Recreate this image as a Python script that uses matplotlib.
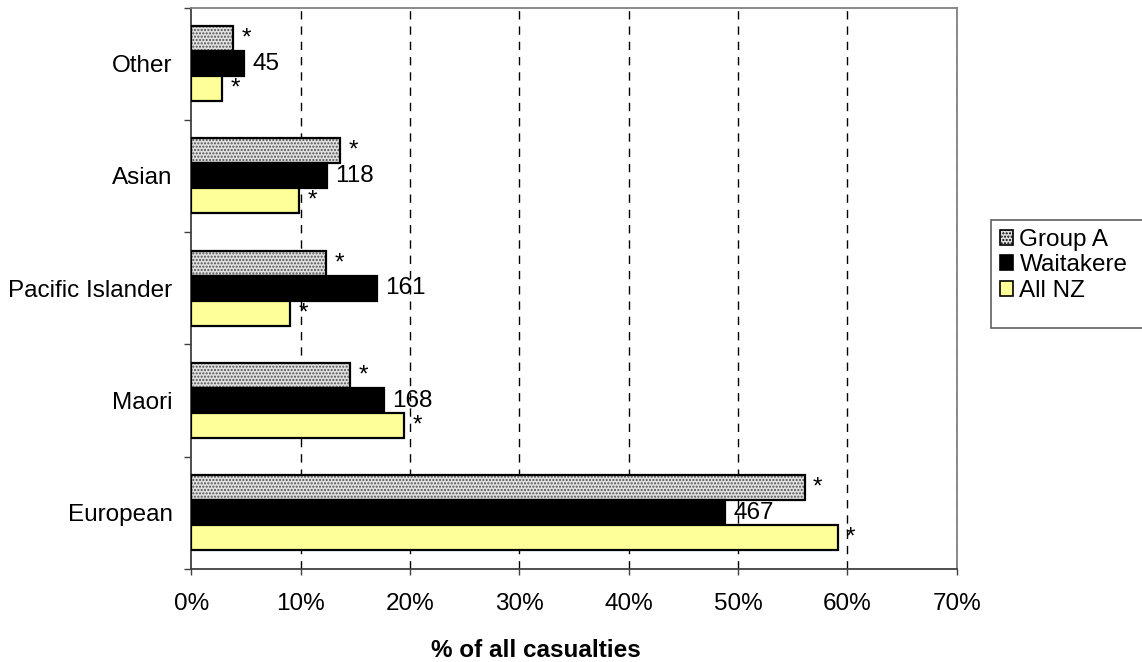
import matplotlib
matplotlib.use("Agg")
import matplotlib.pyplot as plt
import numpy as np
from matplotlib.patches import Patch, Rectangle
from matplotlib.ticker import FixedLocator

plt.rcParams['font.family'] = ['Liberation Sans', 'DejaVu Sans']

categories = ["European", "Maori", "Pacific Islander", "Asian", "Other"]
group_a = [56.1, 14.5, 12.3, 13.6, 3.8]
waitakere = [48.8, 17.6, 16.95, 12.4, 4.8]
all_nz = [59.1, 19.45, 9.05, 9.85, 2.8]
waitakere_counts = ["467", "168", "161", "118", "45"]
group_a_labels = ["*"] * 5
all_nz_labels = ["*"] * 5
series_names = ["Group A", "Waitakere", "All NZ"]
xticks = [0, 10, 20, 30, 40, 50, 60, 70]
xlabel = "% of all casualties"

FS = 17.5
fig = plt.figure(figsize=(11.42, 6.62), dpi=100)
ax = fig.add_axes([191.3/1142, 1-569/662, (956.7-191.3)/1142, (569-7.5)/662])

y = np.arange(len(categories))
h = 0.2226

# gridlines
for xv in xticks[1:]:
    ax.axvline(xv, color='black', lw=1.0, ls=(0, (6, 5)), zorder=0.5)

# Group A: hatched dotted grey
plt.rcParams['hatch.color'] = '#505050'
plt.rcParams['hatch.linewidth'] = 1.0
ax.barh(y + h, group_a, height=h, color='#e0e0e0', hatch='.....',
        edgecolor='#505050', linewidth=0, zorder=2)
ax.barh(y + h, group_a, height=h, fill=False, edgecolor='black', linewidth=1.6, zorder=3)
ax.barh(y, waitakere, height=h, color='black', edgecolor='black', linewidth=1.6, zorder=3)
ax.barh(y - h, all_nz, height=h, color='#ffff99', edgecolor='black', linewidth=1.6, zorder=3)

off = 6
for i in range(len(categories)):
    ax.annotate(group_a_labels[i], (group_a[i], y[i] + h), xytext=(off, 0),
                textcoords='offset points', ha='left', va='center', fontsize=FS, zorder=5)
    ax.annotate(waitakere_counts[i], (waitakere[i], y[i]), xytext=(off, 0),
                textcoords='offset points', ha='left', va='center', fontsize=FS, zorder=5)
    ax.annotate(all_nz_labels[i], (all_nz[i], y[i] - h), xytext=(off, 0),
                textcoords='offset points', ha='left', va='center', fontsize=FS, zorder=5)

ax.set_xlim(0, 70)
ax.set_ylim(-0.5, len(categories) - 0.5)
ax.set_xticks(xticks)
ax.set_xticklabels([f"{v}%" for v in xticks], fontsize=FS)
ax.set_yticks(y)
ax.set_yticklabels(categories, fontsize=FS)
ax.yaxis.set_minor_locator(FixedLocator(np.arange(-0.5, len(categories), 1.0)))
ax.tick_params(axis='y', which='major', length=0, pad=13.5)
ax.tick_params(axis='y', which='minor', length=5, width=1.0, color='#404040')
ax.tick_params(axis='x', which='major', length=4.5, width=1.0, color='#404040', pad=12.5)

for s in ['left', 'bottom']:
    ax.spines[s].set_color('#404040')
    ax.spines[s].set_linewidth(1.3)
for s in ['top', 'right']:
    ax.spines[s].set_color('#808080')
    ax.spines[s].set_linewidth(1.3)

fig.text(536/1142, 1-656.7/662, xlabel, ha='center', va='baseline',
         fontsize=FS, fontweight='bold')

# legend frame (extends past the right edge as in the reference)
fig.patches.append(Rectangle((990.7/1142, 1-328/662), (1160-990.7)/1142, (328-219.7)/662,
                             transform=fig.transFigure, facecolor='white',
                             edgecolor='#606060', linewidth=1.2, zorder=1))
handles = [
    Patch(facecolor='#e0e0e0', hatch='.....', edgecolor='black', linewidth=1.2),
    Patch(facecolor='black', edgecolor='black', linewidth=1.2),
    Patch(facecolor='#ffff99', edgecolor='black', linewidth=1.2),
]
leg = fig.legend(handles, series_names, loc='upper left',
                 bbox_to_anchor=(1000/1142, 1-229/662), fontsize=FS,
                 handlelength=0.55, handleheight=0.55, handletextpad=0.25,
                 labelspacing=0.14, borderpad=0.0, borderaxespad=0,
                 frameon=False)
leg.set_zorder(2)

fig.savefig("out.png", dpi=100)
